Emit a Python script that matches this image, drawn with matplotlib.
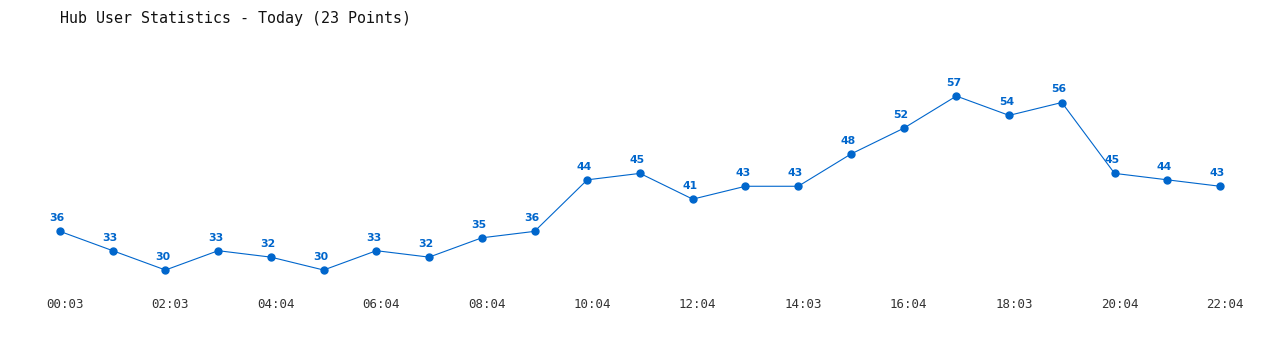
import matplotlib
matplotlib.use("Agg")
import matplotlib.pyplot as plt
from matplotlib.transforms import ScaledTranslation

# Data
times = ["00:03", "01:03", "02:03", "03:03", "04:04", "05:04", "06:04", "07:04",
         "08:04", "09:04", "10:04", "11:04", "12:04", "13:04", "14:03", "15:03",
         "16:04", "17:04", "18:03", "19:03", "20:04", "21:04", "22:04"]
users = [36, 33, 30, 33, 32, 30, 33, 32, 35, 36, 44, 45, 41, 43, 43, 48, 52, 57, 54, 56, 45, 44, 43]
title = "Hub User Statistics - Today (23 Points)"

blue = "#0066cc"
W, H = 1280, 350

fig = plt.figure(figsize=(W / 100, H / 100), dpi=100)
# axes placed in pixel coords: x 60..1220, y 40..290 (from top)
ax = fig.add_axes([60 / W, (H - 290) / H, (1220 - 60) / W, 250 / H])

x = list(range(len(users)))
ax.plot(x, users, color=blue, linewidth=0.8, marker="o", markersize=5, clip_on=False)
for xi, v in zip(x, users):
    ax.annotate(str(v), (xi, v), xytext=(-2, 9.5), textcoords="offset points",
                ha="center", va="center", fontsize=7.8, fontweight="bold",
                color=blue, family="DejaVu Sans")

ax.set_xlim(0, len(users) - 1)
ax.set_ylim(26.9, 65.7)
ax.set_xticks(x[::2])
ax.set_xticklabels(times[::2], family="DejaVu Sans Mono", fontsize=9, color="#333333")
ax.set_yticks([])
ax.tick_params(axis="x", length=0, pad=6)
# tick labels sit a few pixels right of their point in the original
shift = ScaledTranslation(5 / 100, 0, fig.dpi_scale_trans)
for lbl in ax.get_xticklabels():
    lbl.set_transform(lbl.get_transform() + shift)
for s in ax.spines.values():
    s.set_visible(False)

fig.text(60 / W, 1 - 18 / H, title, family="DejaVu Sans Mono", fontsize=10.8,
         ha="left", va="center", color="#111111")

fig.savefig("out.png", dpi=100)
